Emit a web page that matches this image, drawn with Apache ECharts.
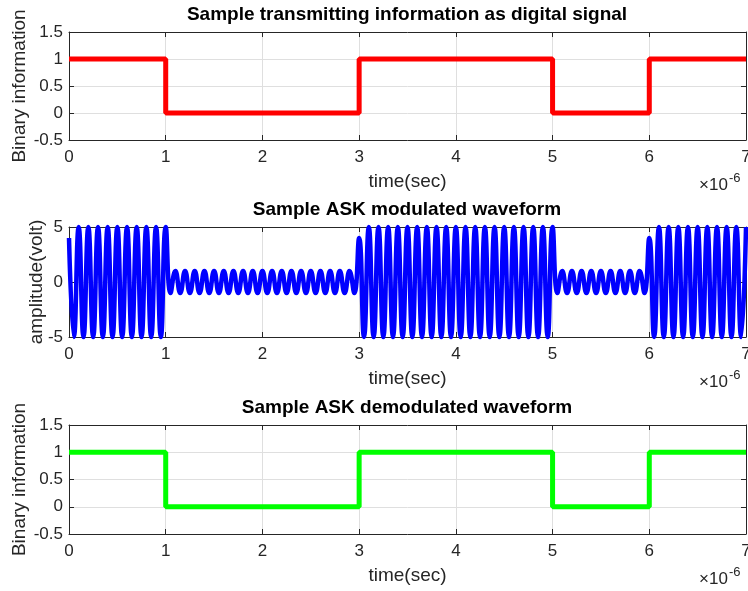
<!DOCTYPE html>
<html>
<head>
<meta charset="utf-8">
<script src="https://cdn.jsdelivr.net/npm/echarts@6/dist/echarts.min.js"></script>
<style>
  html, body { margin: 0; padding: 0; background: #fff; }
  #main { width: 748px; height: 591px; }
</style>
</head>
<body>
<div id="main"></div>
<script>
// bit boundaries in microseconds (axis shows x 10^-6 sec)
var bitEdges = [0, 1, 2, 3, 4, 5, 6, 7];
var txBits = [1, 0, 0, 1, 1, 0, 1];
var rxBits = [1, 0, 0, 1, 1, 0, 1];

// ASK waveform: carrier extremes every half period (0.05 us)
var askStep = 0.05;
var askWave = [
    4,
    -5, 5, -5, 5, -5, 5, -5, 5, -5, 5, -5, 5, -5, 5, -5, 5, -5, 5, -5, 5,   // 0-1 : bit 1
    -1, 1, -1, 1, -1, 1, -1, 1, -1, 1, -1, 1, -1, 1, -1, 1, -1, 1, -1, 1,   // 1-2 : bit 0
    -1, 1, -1, 1, -1, 1, -1, 1, -1, 1, -1, 1, -1, 1, -1, 1, -1, 1, -1, 4,   // 2-3 : bit 0
    -5, 5, -5, 5, -5, 5, -5, 5, -5, 5, -5, 5, -5, 5, -5, 5, -5, 5, -5, 5,   // 3-4 : bit 1
    -5, 5, -5, 5, -5, 5, -5, 5, -5, 5, -5, 5, -5, 5, -5, 5, -5, 5, -5, 5,   // 4-5 : bit 1
    -1, 1, -1, 1, -1, 1, -1, 1, -1, 1, -1, 1, -1, 1, -1, 1, -1, 1, -1, 4,   // 5-6 : bit 0
    -5, 5, -5, 5, -5, 5, -5, 5, -5, 5, -5, 5, -5, 5, -5, 5, -5, 5, -5, 5    // 6-7 : bit 1
];

var titles = [
    'Sample transmitting information as digital signal',
    'Sample ASK modulated waveform',
    'Sample ASK demodulated waveform'
];
var yNames = ['Binary information', 'amplitude(volt)', 'Binary information'];

var chart = echarts.init(document.getElementById('main'));

var INK = '#262626';
var GRIDC = '#dfdfdf';
var FONT = 'Liberation Sans';

var tops = [32, 227, 425];
var heights = [108, 110, 109];
var yNameGaps = [40, 23, 40];

function stepData(bits) {
    return bitEdges.map(function (t, i) {
        return [t, bits[Math.min(i, bits.length - 1)]];
    });
}

var grids = [], xAxes = [], yAxes = [], graphics = [], titleList = [];
tops.forEach(function (top, i) {
    grids.push({ left: 69, right: 2, top: top, height: heights[i], outerBoundsMode: 'none', containLabel: false });
    // bottom axis with labels
    xAxes.push({
        gridIndex: i, type: 'value', min: 0, max: 7, interval: 1,
        name: 'time(sec)', nameLocation: 'middle', nameGap: 32, nameMoveOverlap: false,
        nameTextStyle: { color: INK, fontSize: 19, fontFamily: FONT },
        axisLine: { show: true, onZero: false, lineStyle: { color: INK, width: 1 } },
        axisTick: { show: true, inside: true, length: 5, lineStyle: { color: INK } },
        axisLabel: { color: INK, fontSize: 17, fontFamily: FONT, margin: 9 },
        splitLine: { show: true, lineStyle: { color: GRIDC, width: 1 } }
    });
    // top axis just for the box and ticks
    xAxes.push({
        gridIndex: i, type: 'value', min: 0, max: 7, interval: 1, position: 'top',
        axisLine: { show: true, onZero: false, lineStyle: { color: INK, width: 1 } },
        axisTick: { show: true, inside: true, length: 5, lineStyle: { color: INK } },
        axisLabel: { show: false }, splitLine: { show: false }
    });
    var ymin = i === 1 ? -5 : -0.5, ymax = i === 1 ? 5 : 1.5, yint = i === 1 ? 5 : 0.5;
    yAxes.push({
        gridIndex: i, type: 'value', min: ymin, max: ymax, interval: yint,
        name: yNames[i], nameLocation: 'middle', nameGap: yNameGaps[i], nameMoveOverlap: false,
        nameTextStyle: { color: INK, fontSize: 19, fontFamily: FONT },
        axisLine: { show: true, onZero: false, lineStyle: { color: INK, width: 1 } },
        axisTick: { show: true, inside: true, length: 5, lineStyle: { color: INK } },
        axisLabel: { color: INK, fontSize: 17, fontFamily: FONT, margin: 6 },
        splitLine: { show: true, lineStyle: { color: GRIDC, width: 1 } }
    });
    yAxes.push({
        gridIndex: i, type: 'value', min: ymin, max: ymax, interval: yint, position: 'right',
        axisLine: { show: true, onZero: false, lineStyle: { color: INK, width: 1 } },
        axisTick: { show: true, inside: true, length: 5, lineStyle: { color: INK } },
        axisLabel: { show: false }, splitLine: { show: false }
    });
    titleList.push({
        text: titles[i], left: 407, top: top - 27, textAlign: 'center', padding: 0,
        textStyle: { fontSize: 19, fontWeight: 'bold', fontFamily: FONT, color: '#000' }
    });
    var by = top + heights[i];
    graphics.push({
        type: 'text', left: 699, top: by + 37,
        style: { text: '\u00d710', font: '17px ' + FONT, fill: INK }
    });
    graphics.push({
        type: 'text', left: 729, top: by + 32,
        style: { text: '-6', font: '13px ' + FONT, fill: INK }
    });
});

var option = {
    animation: false,
    backgroundColor: '#fff',
    title: titleList,
    grid: grids,
    xAxis: xAxes,
    yAxis: yAxes,
    graphic: graphics,
    series: [
        {
            type: 'line', xAxisIndex: 0, yAxisIndex: 0, step: 'end',
            data: stepData(txBits), symbol: 'none', clip: false,
            lineStyle: { color: '#ff0000', width: 5 }, z: 5
        },
        {
            type: 'line', xAxisIndex: 2, yAxisIndex: 2, smooth: 0.5,
            data: askWave.map(function (v, k) { return [k * askStep, v]; }),
            symbol: 'none', clip: false,
            lineStyle: { color: '#0000ff', width: 4.5 }, z: 5
        },
        {
            type: 'line', xAxisIndex: 4, yAxisIndex: 4, step: 'end',
            data: stepData(rxBits), symbol: 'none', clip: false,
            lineStyle: { color: '#00ff00', width: 5 }, z: 5
        }
    ]
};
chart.setOption(option);
</script>
</body>
</html>
